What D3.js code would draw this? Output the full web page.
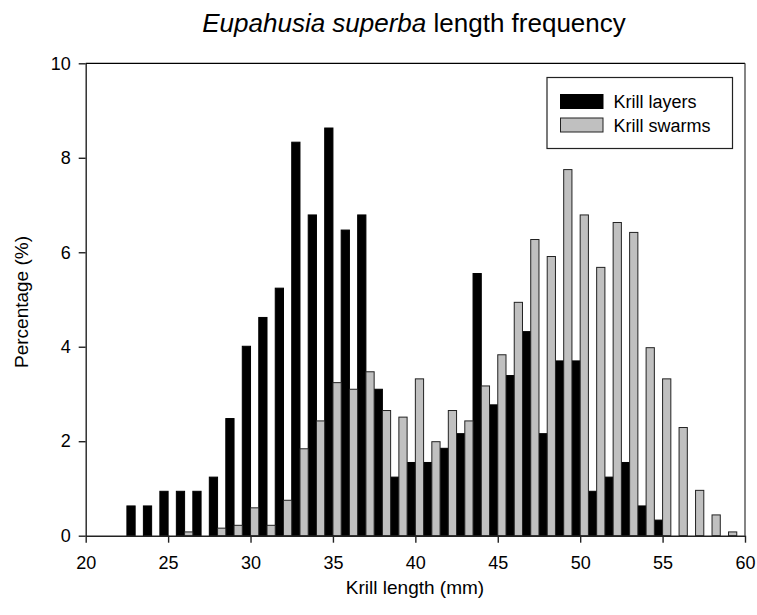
<!DOCTYPE html>
<html>
<head>
<meta charset="utf-8">
<script src="https://cdn.jsdelivr.net/npm/d3@7"></script>
<style>
  html, body { margin: 0; padding: 0; background: #fff; }
  svg { display: block; font-family: "Liberation Sans", Arial, sans-serif; }
</style>
</head>
<body>
<svg id="chart" width="757" height="615"></svg>
<script>
// Krill length classes (mm)
const lengths = [23,24,25,26,27,28,29,30,31,32,33,34,35,36,37,38,39,40,41,42,43,44,45,46,47,48,49,50,51,52,53,54,55,56,57,58,59];
// Percentage, krill layers
const layers = [0.63,0.63,0.94,0.94,0.94,1.24,2.48,4.01,4.62,5.24,8.33,6.79,8.63,6.47,6.79,3.10,1.24,1.55,1.55,1.85,2.16,5.55,2.77,3.39,4.32,2.16,3.70,3.70,0.94,1.24,1.55,0.63,0.33,0,0,0,0];
// Percentage, krill swarms
const swarms = [0,0,0,0.08,0,0.16,0.22,0.59,0.22,0.75,1.84,2.43,3.24,3.10,3.47,2.65,2.51,3.32,1.99,2.65,2.43,3.17,3.83,4.94,6.27,5.91,7.75,6.79,5.68,6.63,6.42,3.98,3.32,2.29,0.96,0.44,0.08];
const seriesNames = ["Krill layers", "Krill swarms"];
const xTicks = [20,25,30,35,40,45,50,55,60];
const yTicks = [0,2,4,6,8,10];

(function () {
const svg = d3.select("#chart");
const pLeft = 85.7, pRight = 745, pTop = 63.3, pBottom = 535.7;

const x = d3.scaleLinear().domain([20, 60]).range([pLeft, pRight]);
const y = d3.scaleLinear().domain([0, 10]).range([pBottom, pTop]);

const colors = ["#000000", "#c0c0c0"];
const strokes = ["#000000", "#222222"];

// bars
const data = lengths.map((l, i) => ({ l, a: layers[i], b: swarms[i] }));
const g = svg.append("g");
g.selectAll("rect.layers").data(data.filter(d => d.a > 0)).join("rect")
  .attr("class", "layers")
  .attr("x", d => x(d.l - 0.5)).attr("width", d => x(d.l) - x(d.l - 0.5))
  .attr("y", d => y(d.a)).attr("height", d => y(0) - y(d.a))
  .attr("fill", colors[0]).attr("stroke", strokes[0]).attr("stroke-width", 1);
g.selectAll("rect.swarms").data(data.filter(d => d.b > 0)).join("rect")
  .attr("class", "swarms")
  .attr("x", d => x(d.l)).attr("width", d => x(d.l + 0.5) - x(d.l))
  .attr("y", d => y(d.b)).attr("height", d => y(0) - y(d.b))
  .attr("fill", colors[1]).attr("stroke", strokes[1]).attr("stroke-width", 1);

// frame top / right
svg.append("line").attr("x1", pLeft).attr("x2", pRight).attr("y1", pTop).attr("y2", pTop)
  .attr("stroke", "#000").attr("stroke-width", 1.2);
svg.append("line").attr("x1", pRight).attr("x2", pRight).attr("y1", pTop).attr("y2", pBottom)
  .attr("stroke", "#333").attr("stroke-width", 1.2);

// axes
const xAxis = svg.append("g").attr("transform", `translate(0,${pBottom})`)
  .call(d3.axisBottom(x).tickValues(xTicks).tickSize(7).tickPadding(14).tickSizeOuter(0));
const yAxis = svg.append("g").attr("transform", `translate(${pLeft},0)`)
  .call(d3.axisLeft(y).tickValues(yTicks).tickSize(7).tickPadding(8).tickSizeOuter(0));
[xAxis, yAxis].forEach(a => {
  a.selectAll("path").attr("stroke", "#222").attr("stroke-width", 1.4);
  a.selectAll("line").attr("stroke", "#222").attr("stroke-width", 1.4);
  a.selectAll("text").attr("font-size", 18).attr("fill", "#000")
    .attr("font-family", "'Liberation Sans', Arial, sans-serif");
});

// title
const title = svg.append("text").attr("x", 414).attr("y", 32).attr("text-anchor", "middle")
  .attr("font-size", 26).attr("fill", "#000");
title.append("tspan").attr("font-style", "italic").text("Eupahusia superba");
title.append("tspan").text(" length frequency");

// axis titles
svg.append("text").attr("x", 415).attr("y", 594).attr("text-anchor", "middle")
  .attr("font-size", 19).text("Krill length (mm)");
svg.append("text").attr("transform", "translate(28,302) rotate(-90)").attr("text-anchor", "middle")
  .attr("font-size", 19).text("Percentage (%)");

// legend
const lg = svg.append("g");
lg.append("rect").attr("x", 547).attr("y", 77.5).attr("width", 185.5).attr("height", 71)
  .attr("fill", "#fff").attr("stroke", "#222").attr("stroke-width", 1.2);
const lgY = [94.5, 118];
seriesNames.forEach((n, i) => {
  lg.append("rect").attr("x", 560.5).attr("y", lgY[i]).attr("width", 42.5).attr("height", 14)
    .attr("fill", colors[i]).attr("stroke", strokes[i]).attr("stroke-width", 1);
  lg.append("text").attr("x", 613.5).attr("y", lgY[i] + 13.5).attr("font-size", 18).text(n);
});
})();
</script>
</body>
</html>
